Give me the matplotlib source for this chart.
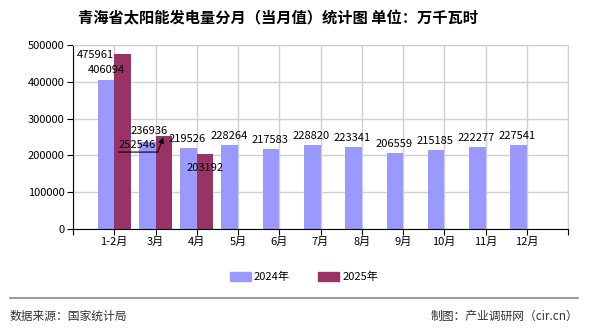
import numpy as np
import matplotlib.pyplot as plt
from matplotlib.patches import Patch
from matplotlib.transforms import offset_copy

plt.rcParams['font.family'] = ['Noto Sans CJK SC', 'DejaVu Sans']

# 数据
months = ['1-2月', '3月', '4月', '5月', '6月', '7月', '8月', '9月', '10月', '11月', '12月']
v2024 = [406094, 236936, 219526, 228264, 217583, 228820, 223341, 206559, 215185, 222277, 227541]
v2025 = [475961, 252546, 203192]

c24 = '#9999FF'
c25 = '#993366'

fig = plt.figure(figsize=(5.9, 3.3), dpi=100)
ax = fig.add_axes([73 / 590, 1 - 229 / 330, 495 / 590, 184 / 330])

x = np.arange(1, len(months) + 1)
w = 0.4
ax.bar(x - w / 2, v2024, width=w, color=c24, zorder=2)
ax.bar(x[:len(v2025)] + w / 2, v2025, width=w, color=c25, zorder=2)

ax.set_xlim(0, 12)
ax.set_ylim(0, 500000)
ax.set_xticks(np.arange(0, 13))
ax.set_xticklabels([''] + months + [''])
ax.set_yticks(np.arange(0, 500001, 100000))
ax.grid(True, color='#d0d0d0', linewidth=1, zorder=0)
for s in ['top', 'right']:
    ax.spines[s].set_color('#d0d0d0')
for s in ['left', 'bottom']:
    ax.spines[s].set_color('black')
ax.tick_params(axis='both', labelsize=8, length=4, color='black', pad=2)

# 数据标签 (偏移单位: 像素)
def lab(xv, yv, txt, dx=0, dy=3, va='bottom', ha='center'):
    ax.annotate(txt, (xv, yv), xytext=(dx, dy), textcoords='offset pixels',
                ha=ha, va=va, fontsize=8, zorder=5)

for i, v in enumerate(v2024):
    if i == 0:
        lab(x[i] - w / 2, v, str(v), dx=0, dy=5)
    elif i == 1:
        lab(x[i] - w / 2, v, str(v), dx=2, dy=6)
    else:
        lab(x[i] - w / 2, v, str(v), dx=-1, dy=4)

lab(x[0] + w / 2, v2025[0], str(v2025[0]), dx=-27, dy=-6)

# 3月 2025 标签: 下划线 + 箭头指向柱顶
bx, by = x[1] + w / 2, v2025[1]
lab(bx, by, str(v2025[1]), dx=-27, dy=-9, va='center')
ax.annotate('', xy=(bx, by), xytext=(-6, -16), textcoords='offset pixels',
            arrowprops=dict(arrowstyle='-|>', color='black', lw=0.8,
                            shrinkA=0, shrinkB=1, mutation_scale=8), zorder=5)
pt = 72 / fig.dpi
ul_a = offset_copy(ax.transData, fig=fig, x=-45 * pt, y=-16 * pt, units='points')
ul_b = offset_copy(ax.transData, fig=fig, x=-6 * pt, y=-16 * pt, units='points')
ax.annotate('', xy=(bx, by), xycoords=ul_a, xytext=(bx, by), textcoords=ul_b,
            arrowprops=dict(arrowstyle='-', color='black', lw=0.8, shrinkA=0, shrinkB=0),
            zorder=5)

lab(x[2] + w / 2, v2025[2], str(v2025[2]), dx=0, dy=-19)

# 标题
fig.text(0.472, 1 - 18 / 330, '青海省太阳能发电量分月（当月值）统计图 单位：万千瓦时',
         ha='center', va='center', fontsize=11, fontweight='bold')

# 图例
handles = [Patch(color=c24, label='2024年'), Patch(color=c25, label='2025年')]
fig.legend(handles=handles, loc='center', bbox_to_anchor=(0.515, 1 - 277 / 330),
           ncol=2, frameon=False, fontsize=8, handlelength=1.9, handleheight=0.8,
           columnspacing=2.5, handletextpad=0.3)

# 底部
fig.add_artist(plt.Line2D([10 / 590, 578 / 590], [1 - 298 / 330] * 2,
                          color='#888888', linewidth=1.2))
fig.text(10 / 590, 1 - 316 / 330, '数据来源：国家统计局', ha='left', va='center',
         fontsize=8.5, color='#333333')
fig.text(578 / 590, 1 - 316 / 330, '制图：产业调研网（cir.cn）', ha='right', va='center',
         fontsize=8.5, color='#333333')

fig.savefig('out.png', dpi=100)
